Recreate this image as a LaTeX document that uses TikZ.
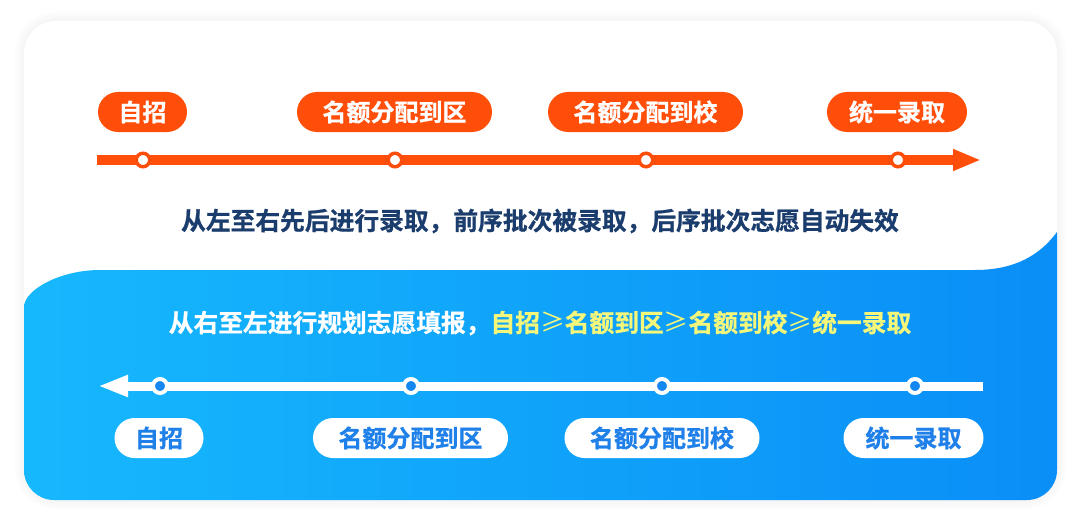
\documentclass[tikz,border=0pt]{standalone}
\usepackage{fontspec}
\newfontfamily\cjk{Noto Sans CJK SC}[BoldFont={Noto Sans CJK SC Bold}, BoldFeatures={FakeBold=0.8}]
\usetikzlibrary{arrows.meta}
\definecolor{org}{HTML}{FF4E0A}
\definecolor{navy}{HTML}{1B3D6D}
\definecolor{bluetxt}{HTML}{1E80E8}
\definecolor{bluedot}{HTML}{1487F0}
\definecolor{yel}{HTML}{F4F77A}
\definecolor{bluel}{HTML}{16B8FD}
\definecolor{bluer}{HTML}{0A8EF7}
\newcommand{\gesym}{{\mdseries ≥}}
\tikzset{
  pilltxt/.style={font=\cjk\bfseries\fontsize{24}{24}\selectfont},
  pillbase/.style={pilltxt, rounded corners=20pt, minimum height=40pt, inner xsep=0pt, inner ysep=0pt},
  opill/.style={pillbase, fill=org, text=white},
  wpill/.style={pillbase, fill=white, text=bluetxt},
  w2/.style={minimum width=89pt},
  w4/.style={minimum width=140pt},
  w6/.style={minimum width=195pt},
  odot/.style={circle, inner sep=0pt, minimum size=13.5pt, fill=white, draw=org, line width=3.5pt},
  wdot/.style={circle, inner sep=0pt, minimum size=14pt, fill=bluedot, draw=white, line width=4pt},
  oline/.style={draw=org, line width=10pt, -{Triangle[length=28pt,width=20pt]}},
  wline/.style={draw=white, line width=9pt, -{Triangle[length=30pt,width=20pt]}},
  captxt/.style={font=\cjk\bfseries\fontsize{24.75}{24.75}\selectfont},
}
\begin{document}
\begin{tikzpicture}[x=1pt,y=-1pt]
\useasboundingbox (0,0) rectangle (1080,527);
\fill[white] (0,0) rectangle (1080,527);
% soft shadow of the card
\foreach \i in {1,...,10}{
  \fill[black, opacity=0.005, rounded corners={32pt+\i pt}] (24-\i,21-\i) rectangle (1057+\i,500+\i);
}
% card
\fill[white, rounded corners=32pt] (24,21) rectangle (1057,500);
% blue lower region
\shade[left color=bluel, right color=bluer]
  (24,307) .. controls (24,290) and (60,270) .. (100,270)
  -- (975,270) .. controls (1015,270) and (1040,255) .. (1057,232)
  -- (1057,470) arc[start angle=0, end angle=90, radius=30] -- (54,500)
  arc[start angle=90, end angle=180, radius=30] -- cycle;
% top timeline
\coordinate (ts) at (97,160);
\coordinate (te) at (981,160);
\draw[oline] (ts) -- (te);
\node[odot] (d1) at (143,160) {};
\node[odot] (d2) at (395,160) {};
\node[odot] (d3) at (646,160) {};
\node[odot] (d4) at (898,160) {};
\node[opill, w2] (p1) at (142.5,112) {自招};
\node[opill, w6] (p2) at (394.5,112) {名额分配到区};
\node[opill, w6] (p3) at (645.5,112) {名额分配到校};
\node[opill, w4] (p4) at (897,112) {统一录取};
% middle caption
\node[captxt, text=navy] (cap1) at (540,221) {从左至右先后进行录取，前序批次被录取，后序批次志愿自动失效};
% bottom caption
\node[captxt, text=white] (cap2) at (540,323) {从右至左进行规划志愿填报，\textcolor{yel}{自招\gesym 名额到区\gesym 名额到校\gesym 统一录取}};
% bottom timeline
\coordinate (bs) at (983,386);
\coordinate (be) at (98,386);
\draw[wline] (bs) -- (be);
\node[wdot] (e1) at (160,386) {};
\node[wdot] (e2) at (411,386) {};
\node[wdot] (e3) at (662,386) {};
\node[wdot] (e4) at (915,386) {};
\node[wpill, w2] (q1) at (159,438) {自招};
\node[wpill, w6] (q2) at (410.5,438) {名额分配到区};
\node[wpill, w6] (q3) at (662,438) {名额分配到校};
\node[wpill, w4] (q4) at (913.5,438) {统一录取};
\end{tikzpicture}
\end{document}
